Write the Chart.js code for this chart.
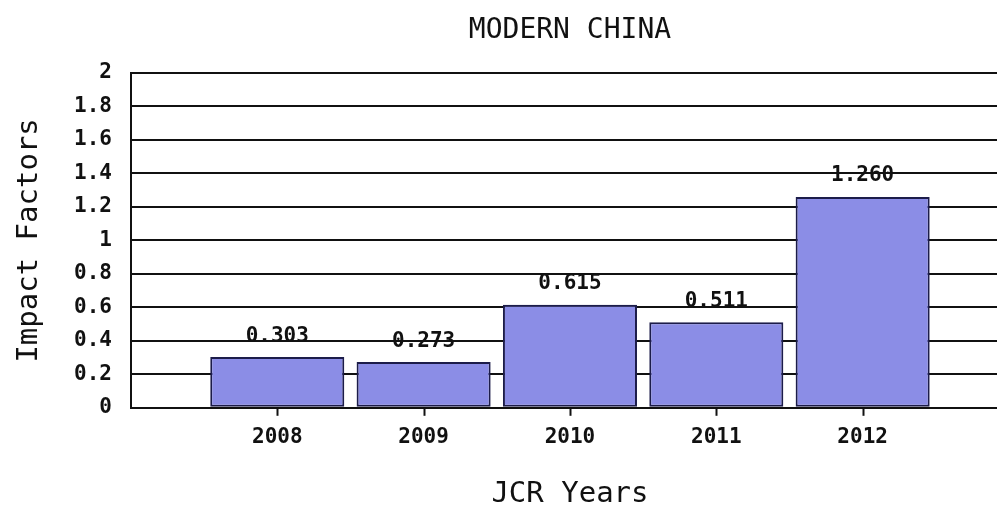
<!DOCTYPE html>
<html>
<head>
<meta charset="utf-8">
<script src="https://cdn.jsdelivr.net/npm/chart.js@4.4.0/dist/chart.umd.min.js"></script>
<style>
  html, body { margin: 0; padding: 0; background: #fff; overflow: hidden; }
  #wrap { width: 1009px; height: 509px; }
</style>
</head>
<body>
<div id="wrap"><canvas id="grafica"></canvas></div>
<script>
// ── Datos ────────────────────────────────────────────────────────────────────
const anios    = [2008, 2009, 2010, 2011, 2012];
const factores = [0.303, 0.273, 0.615, 0.511, 1.260];
const etiquetas = ['0.303', '0.273', '0.615', '0.511', '1.260'];

const MONO = '"DejaVu Sans Mono", "Liberation Mono", monospace';

// ── Etiquetas encima de las barras + marcas del eje X ────────────────────────
const valoresArriba = {
    id: 'valoresArriba',
    afterDatasetsDraw(chart) {
        const ctx = chart.ctx;
        const meta = chart.getDatasetMeta(0);
        const xs = chart.scales.x;
        ctx.save();
        // marcas bajo el eje
        ctx.strokeStyle = '#111';
        ctx.lineWidth = 2;
        anios.forEach(a => {
            const px = Math.round(xs.getPixelForValue(a)) + 0.5;
            ctx.beginPath();
            ctx.moveTo(px, chart.chartArea.bottom);
            ctx.lineTo(px, chart.chartArea.bottom + 8);
            ctx.stroke();
        });
        ctx.font = 'bold 21px ' + MONO;
        ctx.fillStyle = '#111';
        ctx.textAlign = 'center';
        ctx.textBaseline = 'middle';
        meta.data.forEach((bar, i) => {
            ctx.fillText(etiquetas[i], bar.x, bar.y - 21);
        });
        ctx.restore();
    }
};

new Chart(document.getElementById('grafica'), {
    type: 'bar',
    data: {
        datasets: [{
            label: 'Impact Factors',
            data: anios.map((a, i) => ({ x: a, y: factores[i] })),
            backgroundColor: '#8b8de6',
            borderColor: '#1c1c4a',
            borderWidth: 2,
            borderSkipped: false,
            barPercentage: 0.916,
            categoryPercentage: 1.0,
        }]
    },
    options: {
        responsive: true,
        maintainAspectRatio: false,
        animation: false,
        layout: { padding: { top: 17, left: 12, right: 0, bottom: 0 } },
        plugins: {
            legend: { display: false },
            tooltip: { enabled: false },
            title: {
                display: true,
                text: 'MODERN CHINA',
                fullSize: false,
                color: '#111',
                font: { family: MONO, size: 28, weight: 'normal', lineHeight: 1 },
                padding: { top: 0, bottom: 28 }
            }
        },
        scales: {
            x: {
                type: 'linear',
                min: 2007,
                max: 2013,
                offset: false,
                afterBuildTicks: axis => { axis.ticks = anios.map(v => ({ value: v })); },
                grid: { display: false, drawTicks: true, tickLength: 8 },
                border: { display: true, color: '#111', width: 2 },
                ticks: {
                    color: '#111',
                    font: { family: MONO, size: 21, weight: 'bold', lineHeight: 1.2 },
                    padding: 9,
                    callback: v => String(v)
                },
                title: {
                    display: true,
                    text: 'JCR Years',
                    color: '#111',
                    font: { family: MONO, size: 29, weight: 'normal', lineHeight: 1 },
                    padding: { top: 21, bottom: 0 }
                }
            },
            y: {
                min: 0,
                max: 2,
                ticks: {
                    stepSize: 0.2,
                    color: '#111',
                    font: { family: MONO, size: 21, weight: 'bold' },
                    padding: 19,
                    callback: v => String(Math.round(v * 10) / 10)
                },
                grid: { color: '#111', lineWidth: 2, drawTicks: false },
                border: { display: true, color: '#111', width: 2 },
                title: {
                    display: true,
                    text: 'Impact Factors',
                    color: '#111',
                    font: { family: MONO, size: 29, weight: 'normal', lineHeight: 1 },
                    padding: { top: 3, bottom: 11 }
                }
            }
        }
    },
    plugins: [valoresArriba]
});
</script>
</body>
</html>
